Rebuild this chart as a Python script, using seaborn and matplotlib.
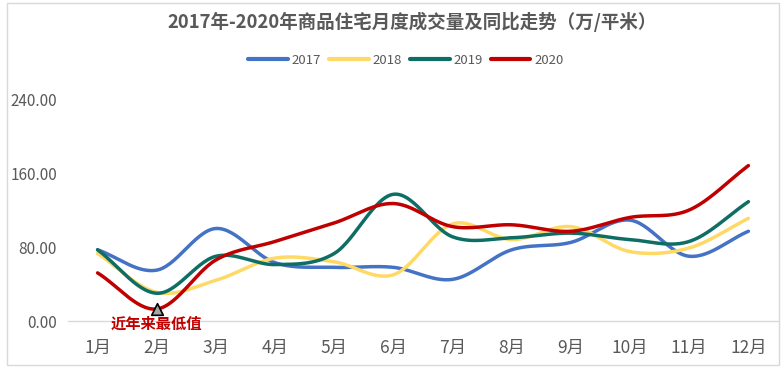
import numpy as np
import pandas as pd
import matplotlib
matplotlib.use("Agg")
import matplotlib.pyplot as plt
from matplotlib.patches import Rectangle
import seaborn as sns

months = ["1月", "2月", "3月", "4月", "5月", "6月", "7月", "8月", "9月", "10月", "11月", "12月"]
v2017 = [77, 55, 100, 63, 58, 58, 45, 77, 85, 109, 70, 97]
v2018 = [73, 31, 44, 68, 64, 50, 105, 88, 102, 75, 79, 111]
v2019 = [77, 30, 70, 61, 73, 137, 91, 90, 95, 88, 86, 129]
v2020 = [52, 13, 66, 86, 106, 127, 102, 104, 97, 112, 120, 168]
years = ["2017", "2018", "2019", "2020"]
colors = ["#4472C4", "#FFD966", "#0F6E63", "#C00000"]
yticks = [0, 80, 160, 240]
title = "2017年-2020年商品住宅月度成交量及同比走势（万/平米）"
note = "近年来最低值"


def smooth(y, n=30):
    """Catmull-Rom rendering of a series (for smooth line display only)."""
    y = np.asarray(y, float)
    x = np.arange(len(y), dtype=float)
    px = np.concatenate([[2 * x[0] - x[1]], x, [2 * x[-1] - x[-2]]])
    py = np.concatenate([[2 * y[0] - y[1]], y, [2 * y[-1] - y[-2]]])
    xs, ys = [], []
    for i in range(1, len(px) - 2):
        t = np.linspace(0, 1, n, endpoint=(i == len(px) - 3))
        for arr, out in ((px, xs), (py, ys)):
            p0, p1, p2, p3 = arr[i - 1], arr[i], arr[i + 1], arr[i + 2]
            out.append(0.5 * ((2 * p1) + (-p0 + p2) * t
                              + (2 * p0 - 5 * p1 + 4 * p2 - p3) * t ** 2
                              + (-p0 + 3 * p1 - 3 * p2 + p3) * t ** 3))
    return np.concatenate(xs), np.concatenate(ys)


frames = []
for yr, vals in zip(years, [v2017, v2018, v2019, v2020]):
    sx, sy = smooth(vals)
    frames.append(pd.DataFrame({"x": sx, "y": sy, "year": yr, "order": np.arange(len(sx))}))
df = pd.concat(frames, ignore_index=True)

sns.set_theme(style="white")
plt.rcParams["font.family"] = ["Noto Sans CJK SC", "DejaVu Sans"]

fig = plt.figure(figsize=(7.84, 3.70), dpi=100)
ax = fig.add_axes([68 / 784, 1 - 321 / 370, 710 / 784, 222 / 370])

sns.lineplot(data=df, x="x", y="y", hue="year", palette=dict(zip(years, colors)),
             sort=False, estimator=None, units="year", linewidth=2.5, ax=ax, legend=False)

ax.set_xlim(-0.5, 11.5)
ax.set_ylim(0, 240)
ax.set_xticks(range(12))
ax.set_xticklabels(months, fontsize=12.5, color="#595959")
ax.set_yticks(yticks)
ax.set_yticklabels([f"{v:.2f}" for v in yticks], fontsize=11, color="#595959")
ax.tick_params(axis="x", length=0, pad=13)
ax.tick_params(axis="y", length=0, pad=8)
ax.set_xlabel("")
ax.set_ylabel("")
for s in ["top", "right", "left"]:
    ax.spines[s].set_visible(False)
ax.spines["bottom"].set_color("#D9D9D9")
ax.spines["bottom"].set_linewidth(1)

# lowest point marker & note
ax.scatter([1], [v2020[1]], marker="^", s=70, color="#A6A6A6", edgecolor="black",
           linewidth=1.2, zorder=5, clip_on=False)
ax.text(1, -2.5, note, color="#C00000", fontsize=11, fontweight="bold",
        ha="center", va="center")

# legend
handles = [plt.Line2D([], [], color=c, linewidth=3) for c in colors]
fig.legend(handles, years, loc="center", bbox_to_anchor=(406 / 784, 1 - 60 / 370),
           ncol=4, frameon=False, fontsize=9.5, handlelength=3.0, columnspacing=0.6,
           handletextpad=0.3, labelcolor="#595959")

fig.text(412 / 784, 1 - 22 / 370, title, ha="center", va="center", fontsize=13.3,
         fontweight="bold", color="#595959")

fig.patches.append(Rectangle((7 / 784, 1 - 365 / 370), 772 / 784, 362 / 370,
                             transform=fig.transFigure, fill=False,
                             edgecolor="#D9D9D9", linewidth=1))

fig.savefig("out.png", dpi=100)
